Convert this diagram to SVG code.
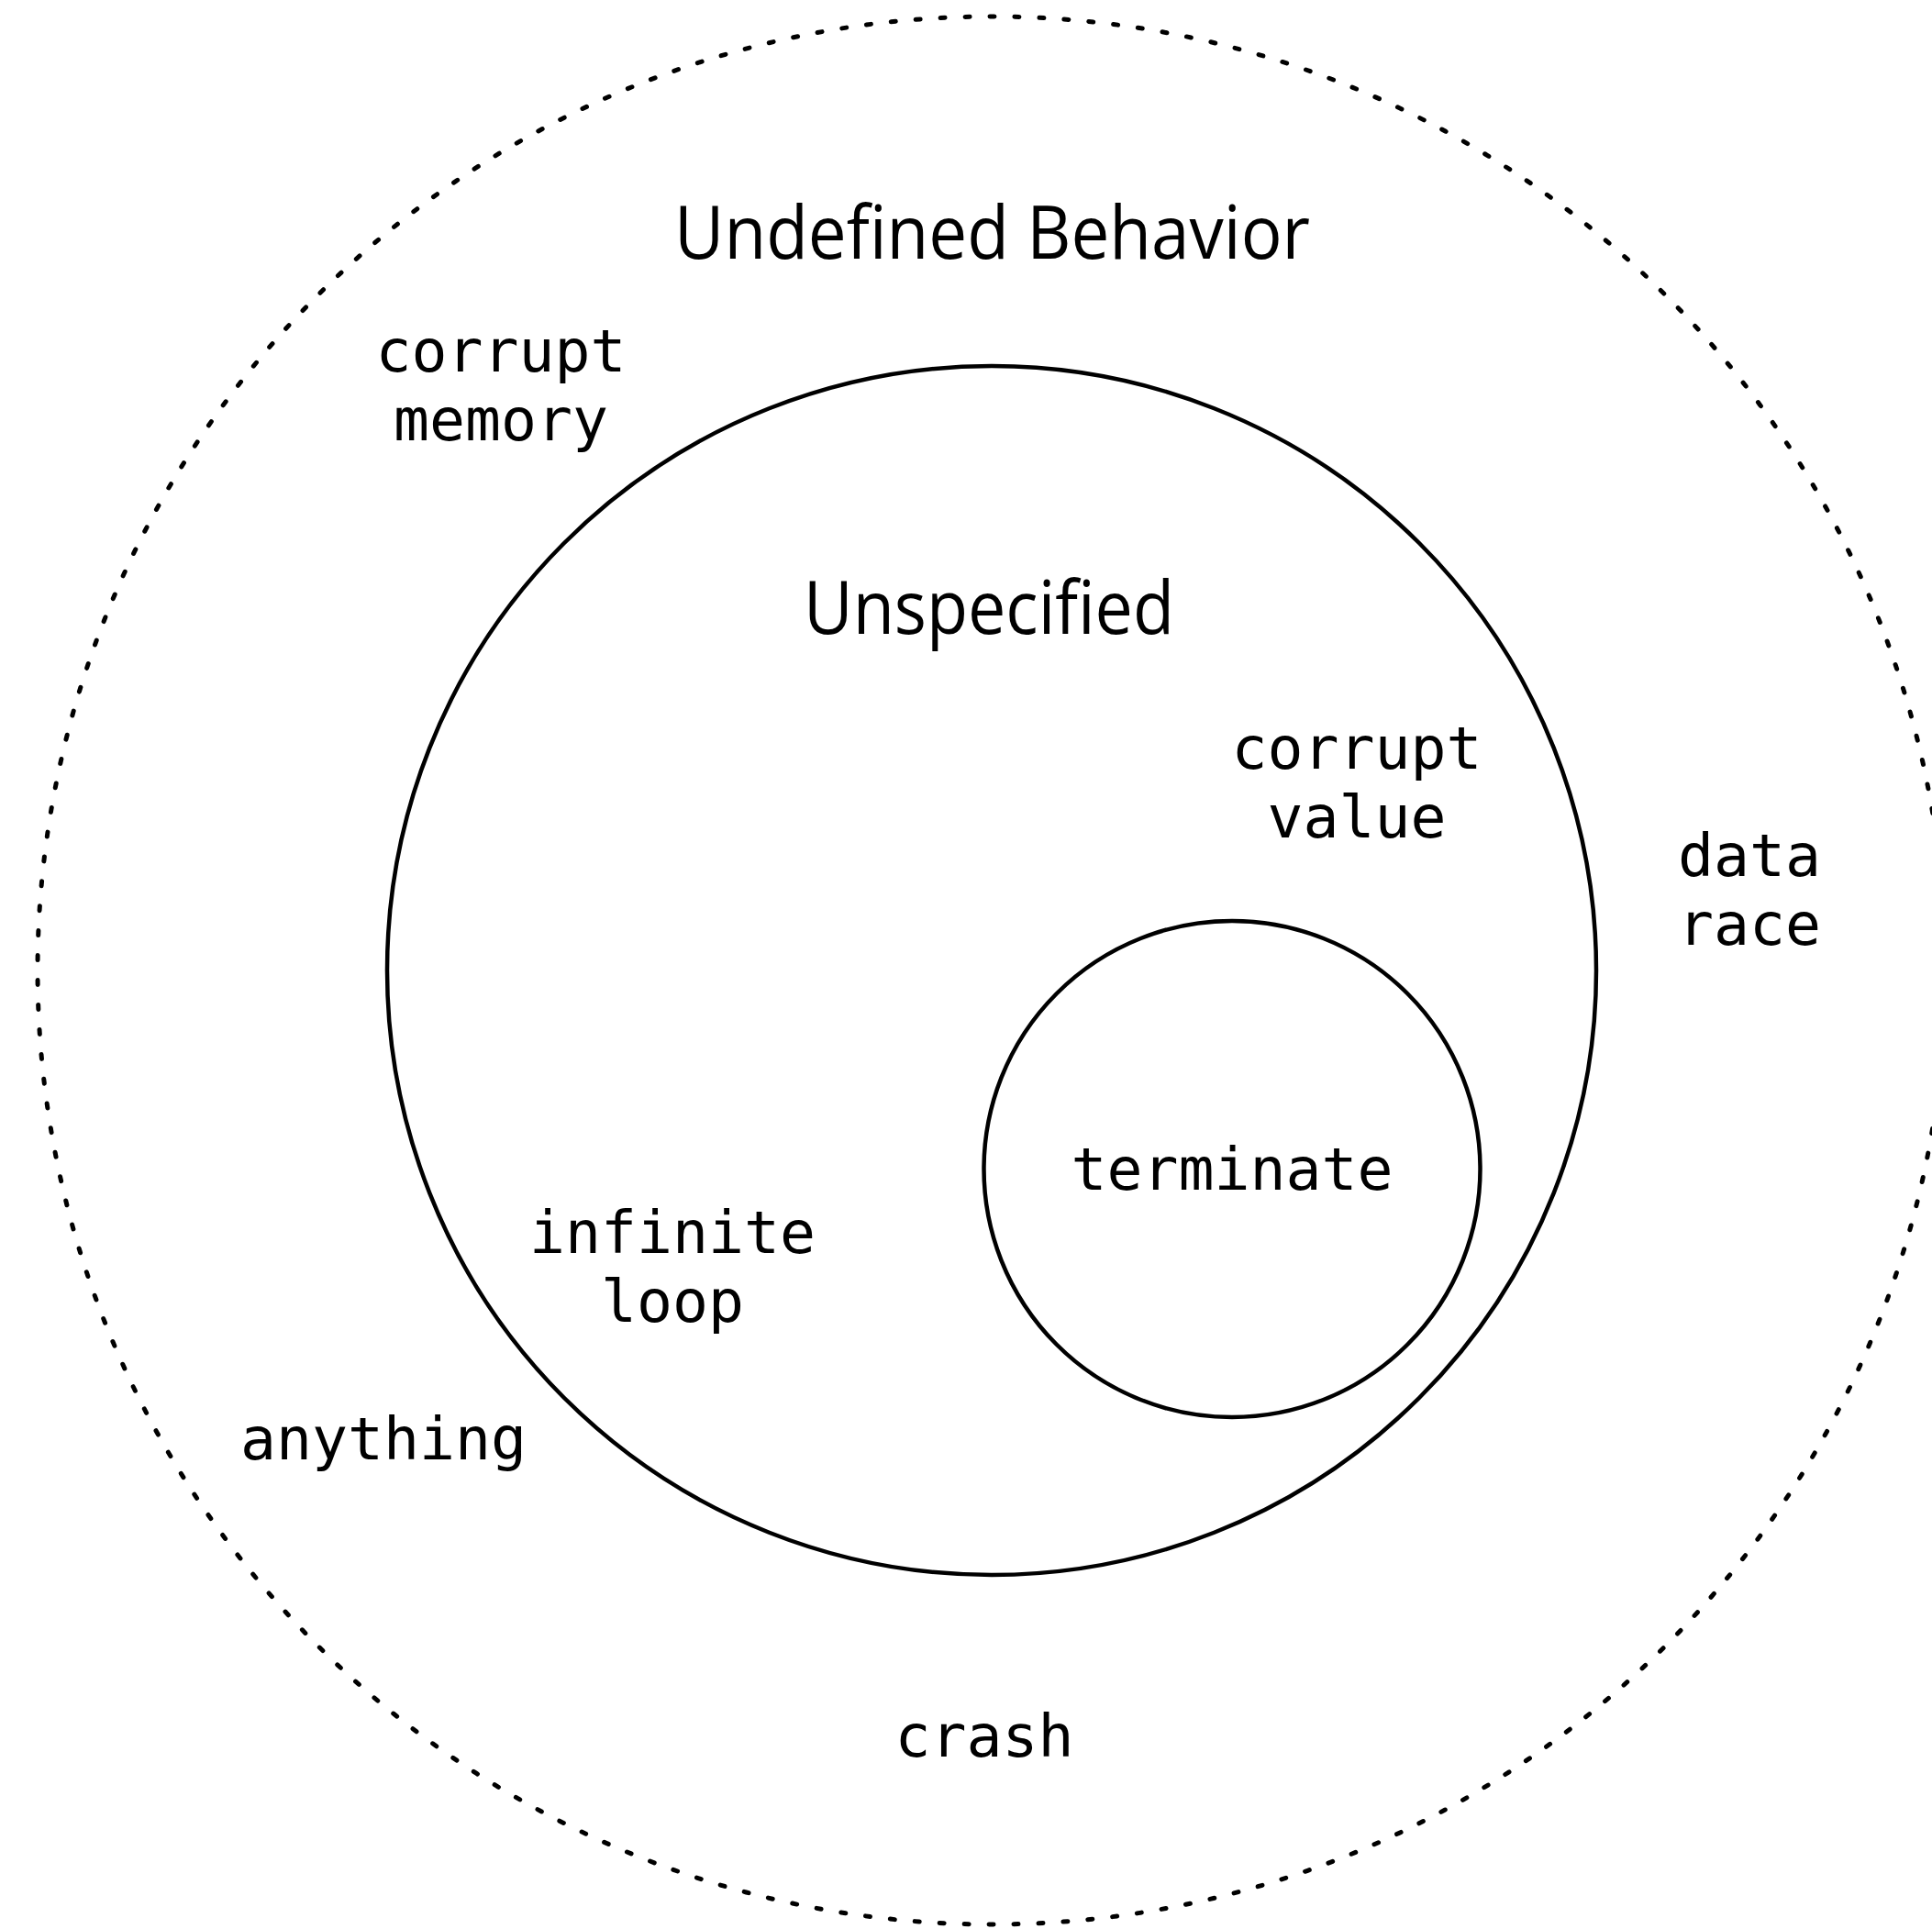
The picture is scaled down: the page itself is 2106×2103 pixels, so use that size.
<svg xmlns="http://www.w3.org/2000/svg" width="2106" height="2103" viewBox="0 0 2106 2103">
  <style>
    .bg { fill: #ffffff; }
    .ring { fill: none; stroke: #000000; stroke-width: 4.5; }
    .dotted { fill: none; stroke: #000000; stroke-width: 5; stroke-linecap: round; stroke-dasharray: 5 22; stroke-dashoffset: 15.6; }
    .title { font-family: "Open Sans", "Liberation Sans", sans-serif; font-size: 80px; fill: #000000; }
    .mono { font-family: "DejaVu Sans Mono", "Liberation Mono", monospace; font-size: 64.8px; fill: #000000; text-anchor: middle; }
  </style>
  <rect class="bg" x="0" y="0" width="2106" height="2103"/>

  <g id="undefined-behavior">
    <circle class="dotted" cx="1081" cy="1058" r="1040"/>
    <text class="title" x="735" y="282" textLength="693" lengthAdjust="spacingAndGlyphs">Undefined Behavior</text>
    <text class="mono" x="546" y="405">corrupt</text>
    <text class="mono" x="546" y="480">memory</text>
    <text class="mono" x="1907" y="955">data</text>
    <text class="mono" x="1907" y="1030">race</text>
    <text class="mono" x="418" y="1591">anything</text>
    <text class="mono" x="1073" y="1915">crash</text>
  </g>

  <g id="unspecified">
    <circle class="ring" cx="1081" cy="1058" r="659"/>
    <text class="title" x="876" y="691" textLength="404" lengthAdjust="spacingAndGlyphs">Unspecified</text>
    <text class="mono" x="1479" y="838">corrupt</text>
    <text class="mono" x="1479" y="913">value</text>
    <text class="mono" x="733" y="1366">infinite</text>
    <text class="mono" x="733" y="1441">loop</text>
  </g>

  <g id="terminate">
    <circle class="ring" cx="1343" cy="1274.5" r="270.5"/>
    <text class="mono" x="1343" y="1297">terminate</text>
  </g>
</svg>
